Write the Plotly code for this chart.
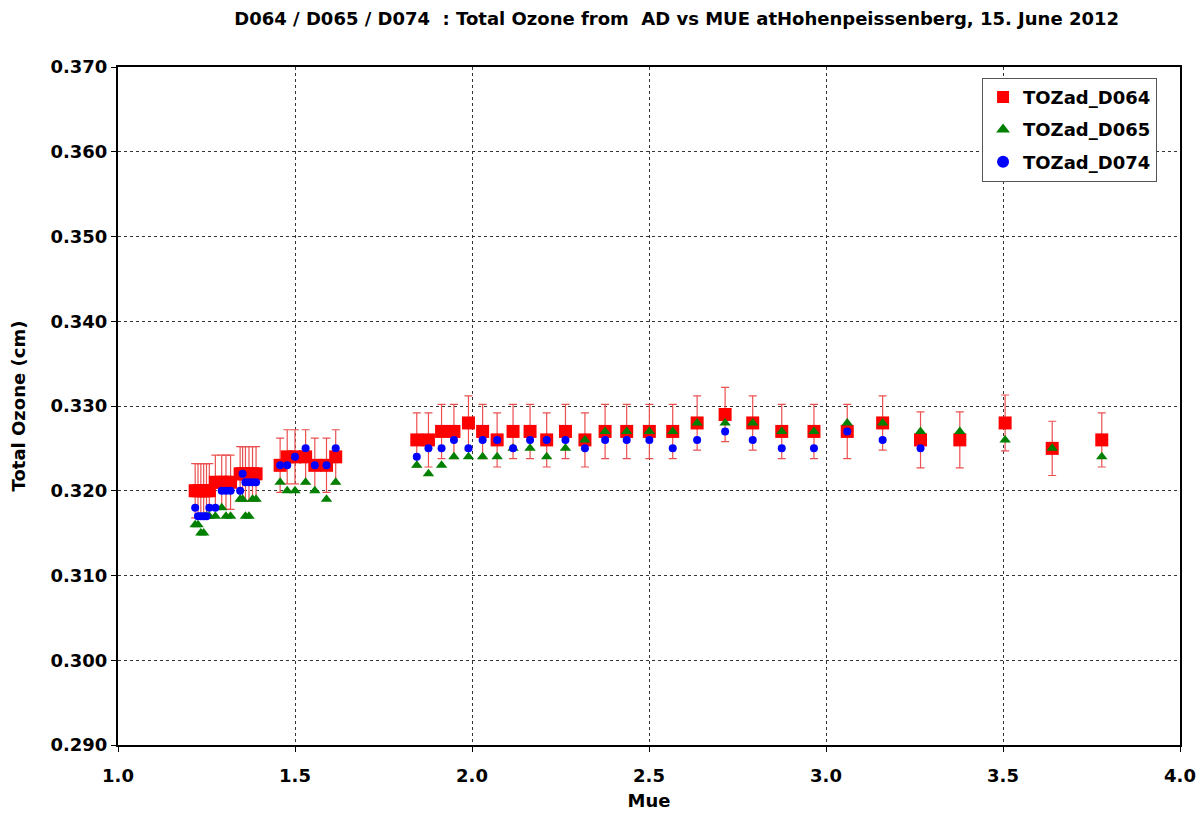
import plotly.graph_objects as go

# Air mass (mue) of each observation
mue = [1.218, 1.226, 1.234, 1.242, 1.250, 1.258, 1.275, 1.293, 1.305, 1.318,
       1.345, 1.352, 1.360, 1.370, 1.380, 1.390,
       1.458, 1.478, 1.500, 1.530, 1.556, 1.589, 1.615,
       1.844, 1.877, 1.914, 1.949, 1.990, 2.030, 2.071, 2.116, 2.164, 2.211,
       2.264, 2.319, 2.376, 2.437, 2.501, 2.567, 2.636, 2.715, 2.793, 2.875,
       2.966, 3.060, 3.160, 3.267, 3.378, 3.506, 3.639, 3.779]

# Total ozone (cm) per instrument
toz_d064 = [0.320, 0.320, 0.320, 0.320, 0.320, 0.320, 0.321, 0.321, 0.321, 0.321,
            0.322, 0.322, 0.322, 0.322, 0.322, 0.322,
            0.323, 0.324, 0.324, 0.324, 0.323, 0.323, 0.324,
            0.326, 0.326, 0.327, 0.327, 0.328, 0.327, 0.326, 0.327, 0.327, 0.326,
            0.327, 0.326, 0.327, 0.327, 0.327, 0.327, 0.328, 0.329, 0.328, 0.327,
            0.327, 0.327, 0.328, 0.326, 0.326, 0.328, 0.325, 0.326]

toz_d065 = [0.316, 0.316, 0.315, 0.315, 0.317, 0.317, 0.317, 0.318, 0.317, 0.317,
            0.319, 0.319, 0.317, 0.317, 0.319, 0.319,
            0.321, 0.320, 0.320, 0.321, 0.320, 0.319, 0.321,
            0.323, 0.322, 0.323, 0.324, 0.324, 0.324, 0.324, 0.325, 0.325, 0.324,
            0.325, 0.326, 0.327, 0.327, 0.327, 0.327, 0.328, 0.328, 0.328, 0.327,
            0.327, 0.328, 0.328, 0.327, 0.327, 0.326, 0.325, 0.324]

toz_d074 = [0.318, 0.317, 0.317, 0.317, 0.317, 0.318, 0.318, 0.320, 0.320, 0.320,
            0.320, 0.322, 0.321, 0.321, 0.321, 0.321,
            0.323, 0.323, 0.324, 0.325, 0.323, 0.323, 0.325,
            0.324, 0.325, 0.325, 0.326, 0.325, 0.326, 0.326, 0.325, 0.326, 0.326,
            0.326, 0.325, 0.326, 0.326, 0.326, 0.325, 0.326, 0.327, 0.326, 0.325,
            0.325, 0.327, 0.326, 0.325, None, None, None, None]

# Uncertainty of the D064 values (cm)
err_d064 = [0.0032] * 16 + [0.0032] * 7 + [
    0.0032, 0.0032, 0.0032, 0.0032, 0.0032, 0.0032, 0.0032, 0.0032, 0.0032, 0.0032,
    0.0032, 0.0032, 0.0032, 0.0032, 0.0032, 0.0032, 0.0032, 0.0032, 0.0032, 0.0032,
    0.0032, 0.0032, 0.0032, 0.0033, 0.0033, 0.0033, 0.0032, 0.0032]

x_ticks = [1.0, 1.5, 2.0, 2.5, 3.0, 3.5, 4.0]
y_ticks = [0.290, 0.300, 0.310, 0.320, 0.330, 0.340, 0.350, 0.360, 0.370]

FONT = "DejaVu Sans, Arial, sans-serif"

fig = go.Figure()
fig.add_trace(go.Scatter(
    x=mue, y=toz_d064, mode="markers", name="<b>TOZad_D064</b>", legendgroup="a",
    marker=dict(symbol="square", size=13, color="#ff0000"),
    error_y=dict(type="data", array=err_d064, visible=True,
                 color="rgb(235,80,80)", thickness=1.2, width=4),
))
fig.add_trace(go.Scatter(
    x=mue, y=toz_d065, mode="markers", name="<b>TOZad_D065</b>", legendgroup="b",
    marker=dict(symbol="triangle-up", size=10, color="#008000"),
))
fig.add_trace(go.Scatter(
    x=mue, y=toz_d074, mode="markers", name="<b>TOZad_D074</b>", legendgroup="c",
    marker=dict(symbol="circle", size=8, color="#0000ff"),
))

fig.update_layout(
    width=1204, height=816,
    margin=dict(l=118, r=24, t=67, b=71),
    paper_bgcolor="white", plot_bgcolor="white",
    font=dict(family=FONT, color="black", size=17),
    title=dict(
        text="<b>D064 / D065 / D074  : Total Ozone from  AD vs MUE atHohenpeissenberg, 15. June 2012</b>",
        x=0.562, xanchor="center", y=0.977, yanchor="middle",
        font=dict(size=18, family=FONT),
    ),
    legend=dict(
        x=0.8136, y=0.984, xanchor="left", yanchor="top",
        bgcolor="white", bordercolor="#555555", borderwidth=1,
        font=dict(size=18, family=FONT), itemsizing="constant",
        traceorder="grouped", tracegroupgap=6,
    ),
    showlegend=True,
)

fig.update_xaxes(
    range=[1.0, 4.0], tickvals=x_ticks, ticktext=[f"<b>{v:.1f}</b>" for v in x_ticks],
    showline=True, linecolor="black", linewidth=2, mirror=True,
    showgrid=True, gridcolor="#333333", gridwidth=1, griddash="3px,3px",
    ticks="outside", ticklen=5, tickcolor="black", ticklabelstandoff=8,
    title=dict(text="<b>Mue</b>", font=dict(size=18), standoff=10),
    tickfont=dict(size=18), zeroline=False, automargin=False,
)
fig.update_yaxes(
    range=[0.290, 0.370], tickvals=y_ticks, ticktext=[f"<b>{v:.3f}</b>" for v in y_ticks],
    showline=True, linecolor="black", linewidth=2, mirror=True,
    showgrid=True, gridcolor="#333333", gridwidth=1, griddash="3px,3px",
    ticks="outside", ticklen=5, tickcolor="black",
    title=dict(text="<b>Total Ozone (cm)</b>", font=dict(size=18), standoff=20),
    tickfont=dict(size=18), zeroline=False, automargin=False,
)

fig.write_html("out.html")
